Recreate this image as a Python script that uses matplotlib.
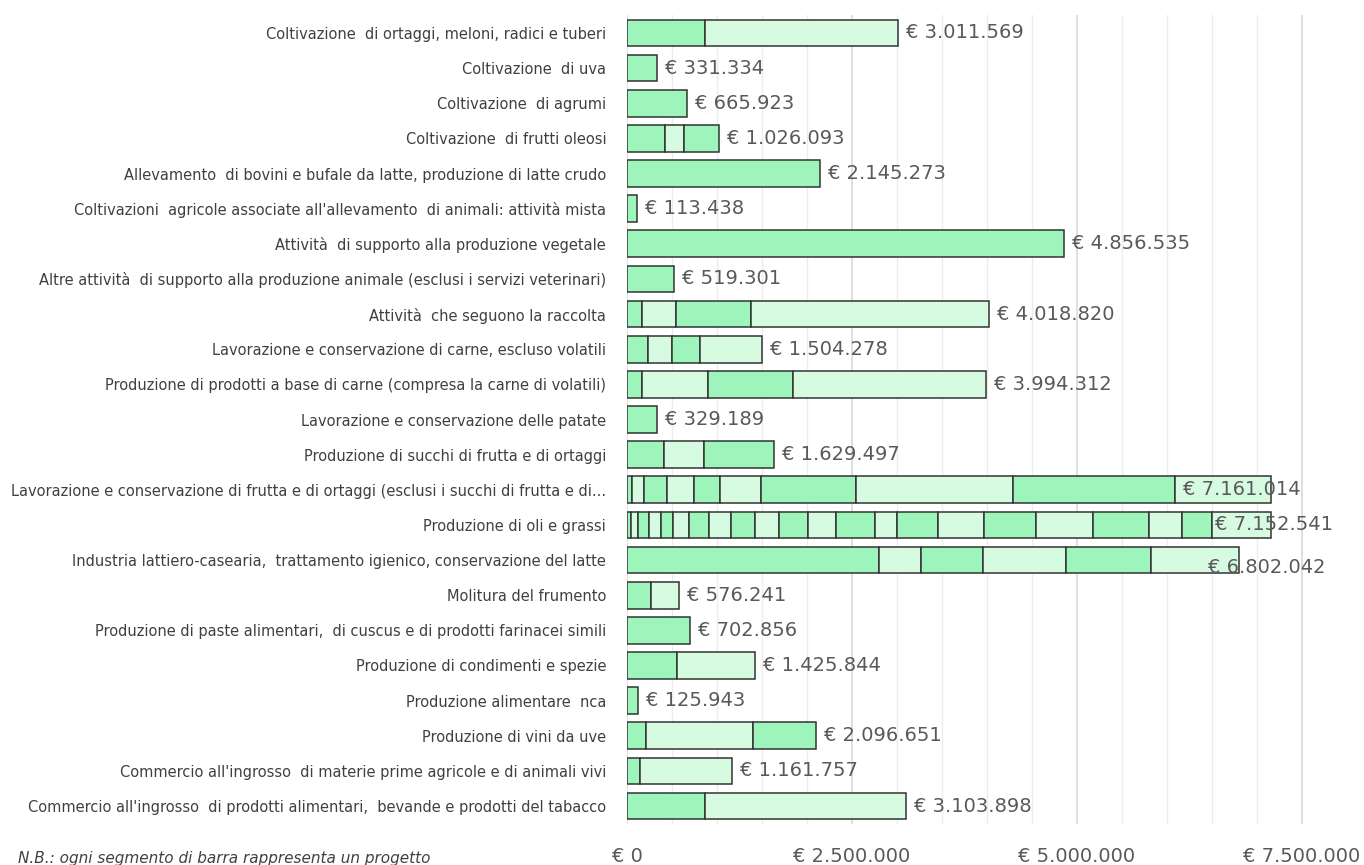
import numpy as np
import matplotlib
matplotlib.use("Agg")
import matplotlib.pyplot as plt
from matplotlib import font_manager

categories = [
    "Coltivazione  di ortaggi, meloni, radici e tuberi",
    "Coltivazione  di uva",
    "Coltivazione  di agrumi",
    "Coltivazione  di frutti oleosi",
    "Allevamento  di bovini e bufale da latte, produzione di latte crudo",
    "Coltivazioni  agricole associate all'allevamento  di animali: attività mista",
    "Attività  di supporto alla produzione vegetale",
    "Altre attività  di supporto alla produzione animale (esclusi i servizi veterinari)",
    "Attività  che seguono la raccolta",
    "Lavorazione e conservazione di carne, escluso volatili",
    "Produzione di prodotti a base di carne (compresa la carne di volatili)",
    "Lavorazione e conservazione delle patate",
    "Produzione di succhi di frutta e di ortaggi",
    "Lavorazione e conservazione di frutta e di ortaggi (esclusi i succhi di frutta e di...",
    "Produzione di oli e grassi",
    "Industria lattiero-casearia,  trattamento igienico, conservazione del latte",
    "Molitura del frumento",
    "Produzione di paste alimentari,  di cuscus e di prodotti farinacei simili",
    "Produzione di condimenti e spezie",
    "Produzione alimentare  nca",
    "Produzione di vini da uve",
    "Commercio all'ingrosso  di materie prime agricole e di animali vivi",
    "Commercio all'ingrosso  di prodotti alimentari,  bevande e prodotti del tabacco",
]

totals = [3011569, 331334, 665923, 1026093, 2145273, 113438, 4856535, 519301,
          4018820, 1504278, 3994312, 329189, 1629497, 7161014, 7152541, 6802042,
          576241, 702856, 1425844, 125943, 2096651, 1161757, 3103898]

# importi dei singoli progetti (un segmento per progetto)
segments = [
    [867000, 2144569],
    [331334],
    [665923],
    [420000, 210000, 396093],
    [2145273],
    [113438],
    [4856535],
    [519301],
    [163000, 381000, 830000, 2644820],
    [237000, 260000, 315000, 692278],
    [170000, 733000, 944000, 2147312],
    [329189],
    [411000, 444000, 774497],
    [59000, 133000, 256000, 297000, 292000, 457000, 1050000, 1746000, 1804000, 1067014],
    [44000, 78000, 127000, 129000, 128000, 183000, 224000, 237000, 273000, 270000,
     322000, 312000, 426000, 243000, 462000, 507000, 582000, 630000, 624000, 371000,
     329000, 651541],
    [2797000, 469000, 689000, 927000, 942000, 978042],
    [267000, 309241],
    [702856],
    [552000, 873844],
    [125943],
    [211000, 1186000, 699651],
    [144000, 1017757],
    [867000, 2236898],
]

x_ticks = [0, 2500000, 5000000, 7500000]
note = "N.B.: ogni segmento di barra rappresenta un progetto"


def euro(v):
    return "€ " + f"{v:,}".replace(",", ".")


names = {f.name for f in font_manager.fontManager.ttflist}
narrow = "Liberation Sans Narrow" if "Liberation Sans Narrow" in names else "DejaVu Sans"
cat_size = 12 if narrow != "DejaVu Sans" else 10.5

fig = plt.figure(figsize=(13.64, 8.65), dpi=100)
ax = fig.add_axes([627 / 1364, 1 - 823.6 / 865, 720 / 1364, 808.2 / 865])

c_dark = "#9ef5bb"
c_light = "#d6fbe1"

for i, segs in enumerate(segments):
    left = 0
    for j, s in enumerate(segs):
        ax.barh(i, s, left=left, height=0.76, color=c_dark if j % 2 == 0 else c_light,
                edgecolor="#333333", linewidth=1.1, zorder=3)
        left += s

# etichette dei totali (alcune spostate come nell'originale)
nudge = {13: (-88, 0), 14: (-56, 0), 15: (-31, -7)}
for i, t in enumerate(totals):
    dx, dy = nudge.get(i, (8, 0))
    ax.annotate(euro(t), xy=(sum(segments[i]), i), xytext=(dx, dy),
                textcoords="offset pixels", va="center", ha="left",
                fontsize=14, color="#595959", zorder=5)

ax.set_ylim(len(categories) - 0.5, -0.5)
ax.set_xlim(0, 8000000)
ax.set_yticks(range(len(categories)))
ax.set_yticklabels(categories, family=[narrow, "DejaVu Sans"], fontsize=cat_size,
                   color="#404040")
ax.set_xticks(x_ticks)
ax.set_xticklabels([euro(v) for v in x_ticks], fontsize=14, color="#595959")
ax.set_xticks(np.arange(0, 7500001, 500000), minor=True)
ax.tick_params(axis="y", length=0, pad=15)
ax.tick_params(axis="x", which="both", length=0, pad=17)
ax.grid(axis="x", which="minor", color="#ececec", linewidth=1.0, zorder=0)
ax.grid(axis="x", which="major", color="#d9d9d9", linewidth=1.2, zorder=0)
ax.set_axisbelow(True)
for sp in ax.spines.values():
    sp.set_visible(False)

fig.text(18 / 1364, 1 - 858 / 865, note, family=[narrow, "DejaVu Sans"],
         style="italic", fontsize=14 if narrow != "DejaVu Sans" else 11,
         color="#404040", va="center", ha="left")

fig.savefig("out.png", dpi=100)
